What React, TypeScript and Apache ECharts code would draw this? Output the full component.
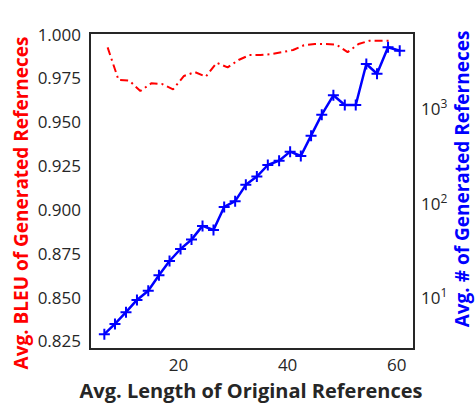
import React, { useEffect, useRef } from "react";
import * as echarts from "echarts";

const countX = [6.4, 8.35, 10.37, 12.38, 14.45, 16.41, 18.35, 20.37, 22.38, 24.4, 26.41, 28.37, 30.38, 32.34, 34.36, 36.37, 38.44, 40.46, 42.42, 44.3, 46.26, 48.39, 50.48, 52.49, 54.43, 56.39, 58.41, 60.55];
const countY = [4.13, 5.3, 7.05, 9.5, 11.9, 17.3, 24.5, 32.8, 41.2, 57.5, 52.1, 91.2, 105, 156, 191, 253, 281, 350, 315, 516, 861, 1378, 1089, 1089, 2951, 2330, 4427, 4078];

const bleuX = [7, 9, 11, 13, 15, 17, 19, 21, 23, 25, 27, 29, 31, 33, 35, 37, 39, 41, 43, 45, 47, 49, 51, 53, 55, 57, 59];
const bleuY = [0.9924, 0.9738, 0.9734, 0.9675, 0.9719, 0.9715, 0.9685, 0.9761, 0.9783, 0.9757, 0.9836, 0.981, 0.9852, 0.988, 0.988, 0.9886, 0.9897, 0.9909, 0.9936, 0.9943, 0.9943, 0.9939, 0.9897, 0.9943, 0.9962, 0.9962, 0.9962];

const xTicks = [20, 40, 60];
const leftTicks = [0.825, 0.85, 0.875, 0.9, 0.925, 0.95, 0.975, 1.0];

const xTitle = "Avg. Length of Original References";
const leftTitle = "Avg. BLEU of Generated Referneces";
const rightTitle = "Avg. # of Generated Referneces";

const FONT = "'Open Sans', 'DejaVu Sans', sans-serif";
const DARK = "#262626";

export default function App() {
  const ref = useRef<HTMLDivElement>(null);
  useEffect(() => {
    if (!ref.current) return;
    const chart = echarts.init(ref.current, undefined, { renderer: "svg" });
    chart.setOption({
      animation: false,
      backgroundColor: "#ffffff",
      grid: {
        left: 90,
        right: 61,
        top: 33,
        bottom: 54,
        show: true,
        borderColor: DARK,
        borderWidth: 2,
        backgroundColor: "transparent",
      },
      xAxis: {
        type: "value",
        min: 3.77,
        max: 63.17,
        axisLine: { show: false },
        axisTick: { show: false },
        splitLine: { show: false },
        axisLabel: {
          customValues: xTicks,
          color: DARK,
          fontFamily: FONT,
          fontSize: 17,
          margin: 7,
        },
      },
      yAxis: [
        {
          type: "value",
          min: 0.8204,
          max: 1.0006,
          position: "left",
          axisLine: { show: false },
          axisTick: { show: false },
          splitLine: { show: false },
          axisLabel: {
            customValues: leftTicks,
            color: DARK,
            fontFamily: FONT,
            fontSize: 17,
            margin: 9,
            formatter: (v: number) => v.toFixed(3),
          },
        },
        {
          type: "log",
          logBase: 10,
          min: 2.88,
          max: 6270,
          position: "right",
          axisLine: { show: false },
          axisTick: { show: false },
          splitLine: { show: false },
          axisLabel: {
            color: DARK,
            fontFamily: FONT,
            fontSize: 17,
            margin: 7,
            showMinLabel: false,
            showMaxLabel: false,
            formatter: (v: number) => {
              const l = Math.log10(v);
              const e = Math.round(l);
              if (Math.abs(l - e) > 1e-6) return "";
              return "10{sup|" + e + "}";
            },
            rich: {
              sup: {
                fontSize: 12,
                fontFamily: FONT,
                color: DARK,
                verticalAlign: "top",
                padding: [0, 0, 10, 0],
              },
            },
          },
        },
      ],
      graphic: [
        {
          type: "text",
          x: 21,
          y: 203,
          rotation: Math.PI / 2,
          style: {
            text: leftTitle,
            fill: "#ff0000",
            font: "bold 19px " + FONT,
            align: "center",
            verticalAlign: "middle",
          },
        },
        {
          type: "text",
          x: 462,
          y: 179,
          rotation: Math.PI / 2,
          style: {
            text: rightTitle,
            fill: "#0000ff",
            font: "bold 19px " + FONT,
            align: "center",
            verticalAlign: "middle",
          },
        },
        {
          type: "text",
          x: 251,
          y: 390,
          style: {
            text: xTitle,
            fill: DARK,
            font: "bold 20px " + FONT,
            align: "center",
            verticalAlign: "middle",
          },
        },
      ],
      series: [
        {
          type: "line",
          yAxisIndex: 0,
          data: bleuX.map((x, i) => [x, bleuY[i]]),
          showSymbol: false,
          symbol: "none",
          lineStyle: { color: "#ff0000", width: 2, type: [8, 4, 2, 4] },
          z: 2,
        },
        {
          type: "line",
          yAxisIndex: 1,
          data: countX.map((x, i) => [x, countY[i]]),
          symbol: "path://M5,0L5,10M0,5L10,5",
          symbolSize: 11,
          itemStyle: { color: "#0000ff", borderColor: "#0000ff", borderWidth: 2 },
          lineStyle: { color: "#0000ff", width: 2.5 },
          z: 3,
        },
      ],
    });
    return () => chart.dispose();
  }, []);
  return (
    <div
      ref={ref}
      style={{ position: "absolute", left: 0, top: 0, width: 475, height: 403 }}
    />
  );
}
